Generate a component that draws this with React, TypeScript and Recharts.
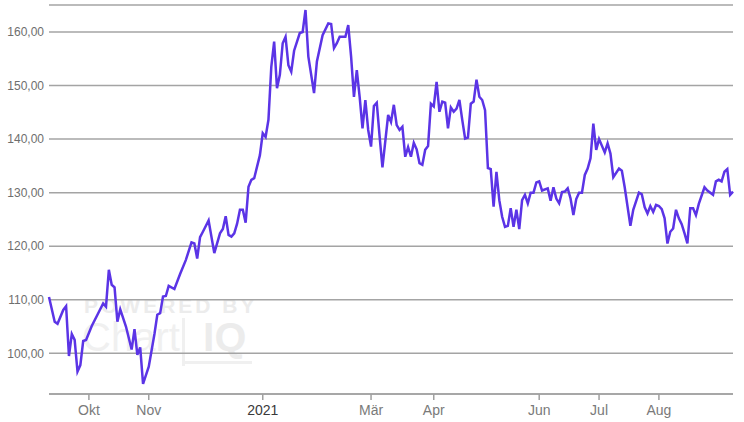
import React from "react";
import { LineChart, Line, XAxis, YAxis, CartesianGrid } from "recharts";

// trading-day index (Sep 2020 .. Aug 2021) and closing prices
const days = [
  0, 2, 3, 5, 6, 7, 8, 9, 10, 11, 12, 13, 15, 17, 19, 20, 21, 22, 23, 24, 25, 27, 29, 30, 31, 32, 33, 35, 37, 38, 39, 40, 41, 42,
  44, 46, 48, 50, 51, 52, 53, 54, 56, 58, 60, 61, 62, 63, 64, 65, 66, 67, 68, 69, 70, 71, 72, 74, 75, 76, 77,
  78, 79, 80, 81, 82, 83, 84, 85, 86, 88, 89, 90, 91, 93, 94, 96, 98, 99, 100, 101, 102, 104, 105, 106, 107, 108, 109,
  110, 111, 112, 113, 114, 115, 116, 117, 119, 120, 121, 122, 123, 124, 125, 126, 127, 128, 129, 130, 131, 132, 133,
  134, 135, 136, 137, 138, 139, 140, 141, 142, 143, 144, 145, 146, 147, 148, 149, 150, 151, 152, 153, 154,
  155, 156, 157, 158, 159, 160, 161, 162, 163, 164, 165, 166, 167, 168, 169, 170, 171, 172, 173, 175,
  176, 177, 178, 179, 180, 181, 182, 183, 184, 185, 186, 187, 188, 189, 190, 191, 192, 193, 195, 196, 197, 198,
  200, 201, 202, 204, 205, 207, 208, 209, 210, 211, 212, 213, 214, 215, 216, 217, 218, 219, 220, 221, 222, 223, 224,
  225, 226, 227, 228, 230, 231, 233, 234, 235, 236, 237, 238, 239, 240,
];
const prices = [
  110.5, 105.9, 105.5, 108.1, 108.8, 99.5, 103.6, 102.5, 96.6, 97.8, 102.3, 102.5, 105.1, 107.2, 109.3, 108.7, 115.6, 112.8, 112.3, 105.9, 108.2, 105.0, 100.7, 104.5, 99.7, 101.1, 94.3, 97.5, 103.6, 107.2, 107.5, 110.6, 110.7, 112.6,
  112.0, 114.8, 117.4, 120.7, 120.5, 117.7, 121.7, 122.7, 124.8, 118.7, 122.4, 123.2, 125.6, 122.1, 121.8, 122.4, 124.2, 126.8, 126.8, 124.4, 131.1, 132.4, 132.7, 137.0, 141.1, 140.4, 143.6,
  153.5, 158.2, 149.5, 152.0, 157.9, 159.1, 153.8, 152.6, 156.5, 159.8, 160.0, 164.1, 155.4, 148.6, 154.5, 159.4, 161.6, 161.5, 157.0, 157.9, 159.1, 159.1, 161.3, 155.4, 147.9, 152.9, 147.9,
  142.0, 147.3, 141.7, 138.6, 146.2, 146.8, 140.5, 134.7, 144.5, 143.2, 146.4, 142.6, 141.7, 142.3, 136.7, 138.5, 136.7, 139.3, 138.1, 135.5, 135.2, 138.0, 138.7,
  146.6, 146.1, 150.7, 145.1, 147.0, 146.8, 142.0, 145.9, 145.1, 145.7, 147.3, 143.6, 140.1, 140.3, 146.6, 147.0, 151.1, 147.9, 147.3, 145.4, 134.6,
  134.4, 127.4, 133.9, 128.6, 125.5, 123.6, 123.8, 127.1, 123.6, 126.8, 123.2, 128.6, 129.6, 128.0, 130.0, 130.0, 131.9, 132.1, 130.4, 130.8,
  128.5, 131.0, 128.9, 128.0, 130.1, 130.2, 130.8, 128.9, 125.8, 128.8, 130.0, 130.0, 133.3, 134.5, 136.4, 142.9, 138.0, 140.0, 137.5, 139.2, 137.3, 132.9,
  134.5, 134.1, 131.0, 123.8, 126.8, 130.0, 129.7, 127.3, 126.1, 127.5, 126.4, 127.7, 127.5, 126.9, 125.2, 120.5, 122.7, 123.3, 126.8, 125.2, 124.1, 122.4, 120.5,
  127.1, 127.1, 125.8, 127.9, 131.0, 130.4, 129.6, 132.1, 132.4, 132.1, 133.9, 134.4, 129.6, 130.2,
];

const tickDays = [14, 35, 75, 113, 135, 172, 193, 214];
const tickLabels = ["Okt", "Nov", "2021", "Mär", "Apr", "Jun", "Jul", "Aug"];
const yTicks = [100, 110, 120, 130, 140, 150, 160];

const data = days.map((d, i) => ({ d, p: prices[i] }));

const FONT = '"Liberation Sans", Arial, sans-serif';

const XTick = (props: any) => {
  const { x, y, payload } = props;
  const i = tickDays.indexOf(payload.value);
  const label = tickLabels[i] ?? "";
  return (
    <text
      x={x}
      y={y}
      dy="0.71em"
      textAnchor="middle"
      fill={label === "2021" ? "#3a3a3a" : "#7a7a7a"}
      fontSize={14}
      fontFamily={FONT}
    >
      {label}
    </text>
  );
};

const wm = "#ececec";

export default function App() {
  return (
    <div style={{ position: "absolute", left: 0, top: 0, width: 744, height: 422, background: "#fff" }}>
      <div style={{ position: "absolute", left: 0, top: 0, width: 744, height: 422 }}>
        <div
          style={{
            position: "absolute",
            left: 84,
            top: 295,
            font: `bold 21px ${FONT}`,
            lineHeight: "21px",
            letterSpacing: 3,
            color: wm,
            whiteSpace: "nowrap",
          }}
        >
          POWERED BY
        </div>
        <div
          style={{
            position: "absolute",
            left: 82,
            top: 317,
            font: `normal 40px ${FONT}`,
            lineHeight: "40px",
            color: "#f0f0f0",
            whiteSpace: "nowrap",
          }}
        >
          Chart
        </div>
        <div style={{ position: "absolute", left: 182, top: 318, width: 3, height: 48, background: "#f0f0f0" }} />
        <div style={{ position: "absolute", left: 182, top: 361, width: 70, height: 3, background: "#f0f0f0" }} />
        <div
          style={{
            position: "absolute",
            left: 203,
            top: 317,
            font: `bold 41px ${FONT}`,
            lineHeight: "41px",
            color: wm,
            whiteSpace: "nowrap",
          }}
        >
          IQ
        </div>
      </div>
      <div style={{ position: "absolute", left: 0, top: 0 }}>
        <LineChart width={744} height={422} data={data} margin={{ top: 5, right: 11, bottom: 0, left: 0 }}>
          <CartesianGrid vertical={false} stroke="#a4a4a4" strokeWidth={1.5} />
          <XAxis
            dataKey="d"
            type="number"
            domain={[0, 240]}
            ticks={tickDays}
            interval={0}
            height={28}
            tick={<XTick />}
            tickSize={6}
            tickMargin={5}
            axisLine={{ stroke: "#a0a0a0", strokeWidth: 1.5 }}
            tickLine={{ stroke: "#a0a0a0", strokeWidth: 1.5 }}
          />
          <YAxis
            type="number"
            domain={[92.4, 165.04]}
            ticks={yTicks}
            interval={0}
            width={49}
            axisLine={false}
            tickLine={false}
            tickSize={0}
            tickMargin={5}
            allowDataOverflow
            tickFormatter={(v: number) => v.toFixed(2).replace(".", ",")}
            tick={{ fill: "#6e6e6e", fontSize: 12, fontFamily: FONT }}
          />
          <Line
            type="linear"
            dataKey="p"
            stroke="#5b34e6"
            strokeWidth={2.5}
            dot={false}
            isAnimationActive={false}
          />
        </LineChart>
      </div>
    </div>
  );
}
